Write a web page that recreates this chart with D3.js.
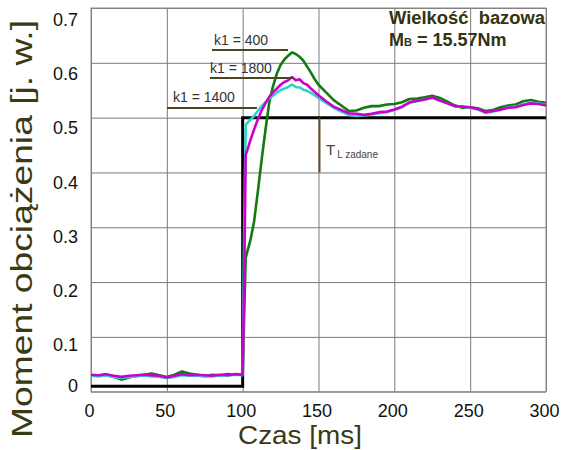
<!DOCTYPE html>
<html>
<head>
<meta charset="utf-8">
<script src="https://cdn.jsdelivr.net/npm/d3@7"></script>
<style>
  body { margin: 0; background: #fff; }
  svg { display: block; font-family: Arial, "Liberation Sans", sans-serif; }
</style>
</head>
<body>
<script>
// time axis, shared by the three recorded curves
var czas = [0,5,10,15,20,25,30,35,40,45,50,55,60,65,70,75,80,85,90,95,100,
  101,102,103,105,107.5,110,112.5,115,117.5,120,122.5,125,127.5,130,132.5,135,137.5,140,142.5,145,147.5,150,
  155,160,165,170,175,180,185,190,195,200,205,210,215,220,225,230,235,240,245,250,255,260,265,270,275,280,285,290,295,300];

// k1 = 400 (green)
var k400 = [0.030,0.029,0.031,0.027,0.022,0.026,0.029,0.031,0.033,0.030,0.027,0.031,0.037,0.033,0.031,0.028,0.031,0.030,0.032,0.031,0.032,
  0.140,0.244,0.255,0.275,0.310,0.365,0.423,0.477,0.527,0.557,0.580,0.596,0.606,0.613,0.619,0.616,0.611,0.604,0.593,0.582,0.570,0.560,
  0.546,0.532,0.522,0.512,0.513,0.518,0.521,0.521,0.524,0.525,0.528,0.534,0.535,0.537,0.540,0.536,0.529,0.522,0.518,0.519,0.517,0.512,0.514,0.519,0.522,0.524,0.530,0.532,0.529,0.527];

// k1 = 1800 (magenta)
var k1800 = [0.031,0.030,0.032,0.029,0.027,0.029,0.030,0.031,0.030,0.029,0.026,0.029,0.032,0.030,0.031,0.030,0.029,0.031,0.030,0.032,0.031,
  0.200,0.432,0.440,0.458,0.478,0.497,0.513,0.526,0.538,0.546,0.553,0.560,0.565,0.568,0.574,0.568,0.570,0.563,0.560,0.553,0.547,0.541,
  0.530,0.520,0.514,0.508,0.507,0.505,0.507,0.510,0.511,0.515,0.520,0.528,0.531,0.533,0.537,0.531,0.526,0.521,0.520,0.519,0.516,0.510,0.512,0.515,0.518,0.519,0.523,0.526,0.525,0.522];

// k1 = 1400 (cyan)
var k1400 = [0.029,0.028,0.030,0.027,0.025,0.027,0.028,0.030,0.028,0.027,0.025,0.027,0.030,0.029,0.029,0.028,0.028,0.030,0.029,0.031,0.030,
  0.300,0.487,0.490,0.496,0.503,0.512,0.521,0.528,0.535,0.540,0.546,0.550,0.553,0.556,0.560,0.556,0.555,0.551,0.549,0.545,0.541,0.536,
  0.527,0.518,0.511,0.505,0.503,0.504,0.506,0.508,0.510,0.514,0.519,0.527,0.530,0.533,0.536,0.531,0.526,0.520,0.520,0.518,0.515,0.509,0.511,0.514,0.519,0.520,0.524,0.527,0.526,0.523];

// reference step (zadane)
var stepT = [0, 100, 100, 300];
var stepV = [0.01, 0.01, 0.5, 0.5];

var xTicks = [0, 50, 100, 150, 200, 250, 300];
var yTicks = [0, 0.1, 0.2, 0.3, 0.4, 0.5, 0.6, 0.7];

var width = 562, height = 450;
var pLeft = 91, pRight = 546, pTop = 8, pBottom = 391.7;

var svg = d3.select('body').append('svg')
  .attr('width', width)
  .attr('height', height);

var x = d3.scaleLinear().domain([0, 300]).range([pLeft, pRight]);
var y = d3.scaleLinear().domain([0, 0.7]).range([pBottom, pTop]);
// the printed labels sit a little off the grid in the original
var yLab = d3.scaleLinear().domain([0, 0.1, 0.7]).range([386, 345, 19.5]);

// grid
svg.append('g')
  .attr('transform', 'translate(0,' + pBottom + ')')
  .call(d3.axisBottom(x).tickValues(xTicks).tickSize(-(pBottom - pTop)).tickFormat(''))
  .call(function(g) {
    g.select('.domain').remove();
    g.selectAll('line').attr('stroke', '#7a7a7a');
  });

svg.append('g')
  .attr('transform', 'translate(' + pLeft + ',0)')
  .call(d3.axisLeft(y).tickValues(yTicks).tickSize(-(pRight - pLeft)).tickFormat(''))
  .call(function(g) {
    g.select('.domain').remove();
    g.selectAll('line').attr('stroke', '#7a7a7a');
  });

svg.append('rect')
  .attr('x', pLeft).attr('y', pTop)
  .attr('width', pRight - pLeft).attr('height', pBottom - pTop)
  .attr('fill', 'none').attr('stroke', '#8a8a8a');

// tick labels
svg.append('g')
  .attr('transform', 'translate(0,' + pBottom + ')')
  .call(d3.axisBottom(x).tickValues(xTicks).tickSize(0).tickPadding(13).tickFormat(d3.format('d')))
  .call(function(g) {
    g.select('.domain').remove();
    g.selectAll('text').attr('font-size', 18).attr('fill', '#111').attr('font-family', 'Arial, Liberation Sans, sans-serif').attr('dx', -2);
  });

svg.append('g')
  .attr('transform', 'translate(78,0)')
  .call(d3.axisLeft(yLab).tickValues(yTicks).tickSize(0).tickPadding(0).tickFormat(function(d) { return d === 0 ? '0' : d3.format('.1f')(d); }))
  .call(function(g) {
    g.select('.domain').remove();
    g.selectAll('text').attr('font-size', 18).attr('fill', '#111').attr('font-family', 'Arial, Liberation Sans, sans-serif');
  });

// axis titles
svg.append('text')
  .attr('x', 300).attr('y', 444)
  .attr('text-anchor', 'middle')
  .attr('font-size', 25)
  .attr('fill', '#3a3a14')
  .attr('textLength', 124)
  .attr('lengthAdjust', 'spacingAndGlyphs')
  .text('Czas [ms]');

svg.append('text')
  .attr('transform', 'translate(32,229) rotate(-90)')
  .attr('text-anchor', 'middle')
  .attr('font-size', 30)
  .attr('fill', '#3a3a14')
  .attr('textLength', 418)
  .attr('lengthAdjust', 'spacingAndGlyphs')
  .text('Moment obciążenia [j. w.]');

// lines
var line = d3.line()
  .x(function(d) { return x(d[0]); })
  .y(function(d) { return y(d[1]); });

svg.append('path')
  .datum(stepT.map(function(t, i) { return [t, stepV[i]]; }))
  .attr('d', line)
  .attr('fill', 'none')
  .attr('stroke', '#000')
  .attr('stroke-width', 3);

var series = [
  { vals: k400, color: '#117a11' },
  { vals: k1400, color: '#2ed0d0' },
  { vals: k1800, color: '#cc00cc' }
];

series.forEach(function(s) {
  svg.append('path')
    .datum(czas.map(function(t, i) { return [t, s.vals[i]]; }))
    .attr('d', line)
    .attr('fill', 'none')
    .attr('stroke', s.color)
    .attr('stroke-width', 2.6)
    .attr('stroke-linejoin', 'round');
});

// k1 annotations
var notes = [
  { label: 'k1 = 400', tx: 214, ty: 45, x1: 212, x2: 288, ly: 50 },
  { label: 'k1 = 1800', tx: 210, ty: 73, x1: 210, x2: 293, ly: 78 },
  { label: 'k1 = 1400', tx: 173, ty: 102, x1: 167, x2: 257, ly: 108 }
];

notes.forEach(function(n) {
  svg.append('text')
    .attr('x', n.tx).attr('y', n.ty)
    .attr('font-size', 14)
    .attr('fill', '#333')
    .text(n.label);
  svg.append('line')
    .attr('x1', n.x1).attr('x2', n.x2)
    .attr('y1', n.ly).attr('y2', n.ly)
    .attr('stroke', '#4d4420')
    .attr('stroke-width', 2);
});

// T_L zadane marker
svg.append('line')
  .attr('x1', x(150) + 1).attr('x2', x(150) + 1)
  .attr('y1', y(0.5)).attr('y2', y(0.4))
  .attr('stroke', '#6b4a2a')
  .attr('stroke-width', 2);

var tl = svg.append('text')
  .attr('x', 326).attr('y', 155)
  .attr('fill', '#444')
  .attr('font-size', 15);
tl.append('tspan').text('T');
tl.append('tspan').attr('font-size', 10).attr('dx', 2).attr('dy', 3).text('L zadane');

// base value note
svg.append('text')
  .attr('x', 389).attr('y', 24)
  .attr('font-size', 18)
  .attr('font-weight', 'bold')
  .attr('fill', '#33330f')
  .attr('textLength', 156)
  .attr('lengthAdjust', 'spacingAndGlyphs')
  .attr('xml:space', 'preserve')
  .text('Wielkość  bazowa');

var mb = svg.append('text')
  .attr('x', 389).attr('y', 46)
  .attr('font-size', 18)
  .attr('font-weight', 'bold')
  .attr('fill', '#33330f');
mb.append('tspan').text('M');
mb.append('tspan').attr('font-size', 11).text('B');
mb.append('tspan').text(' = 15.57Nm');
</script>
</body>
</html>
